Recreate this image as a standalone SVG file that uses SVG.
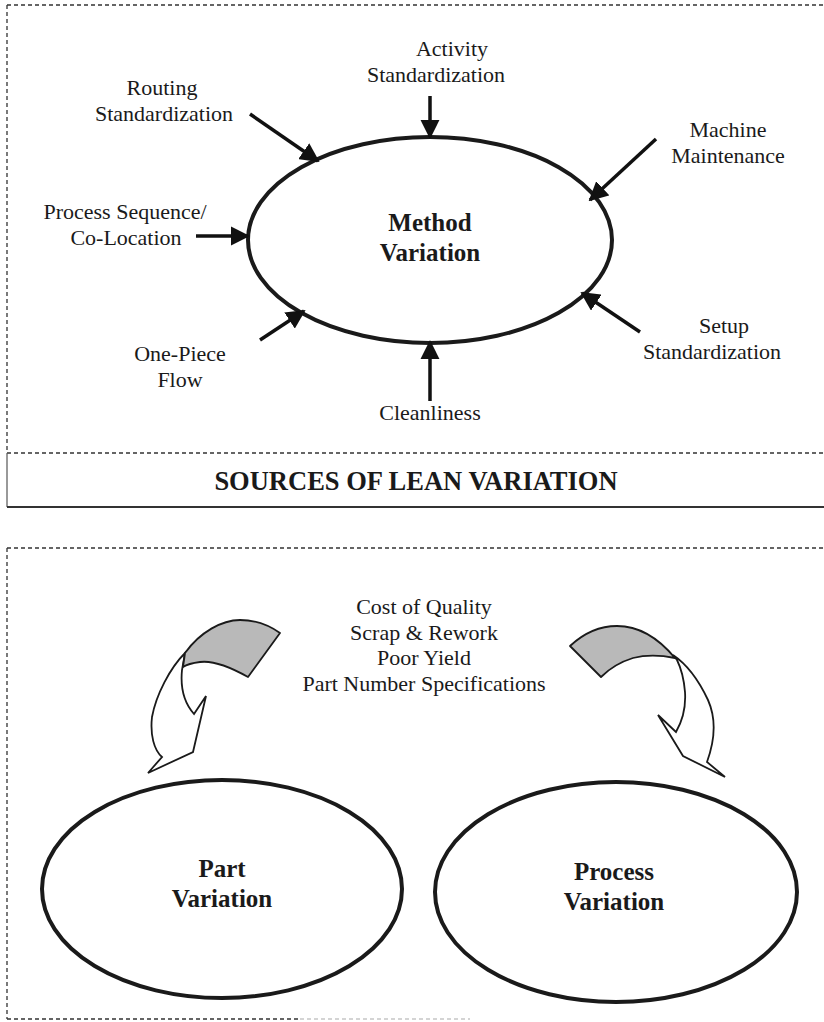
<svg xmlns="http://www.w3.org/2000/svg" width="824" height="1022" viewBox="0 0 824 1022">
<defs>
<marker id="ah" viewBox="0 0 10 10" refX="9" refY="5" markerWidth="5.5" markerHeight="5.5" orient="auto" markerUnits="strokeWidth">
<path d="M0,0 L10,5 L0,10 Z" fill="#111"/>
</marker>
<style>
.t{font-family:"Liberation Serif","Times New Roman","DejaVu Serif",serif;font-size:22px;fill:#1a1a1a;text-anchor:middle}
.b{font-family:"Liberation Serif","Times New Roman","DejaVu Serif",serif;font-size:25px;font-weight:bold;fill:#1a1a1a;text-anchor:middle}
.h{font-family:"Liberation Serif","Times New Roman","DejaVu Serif",serif;font-size:26.5px;font-weight:bold;fill:#1a1a1a;text-anchor:middle}
.d{stroke:#333;stroke-width:1.3;stroke-dasharray:4 3;fill:none}
.e{fill:#fff;stroke:#1a1a1a;stroke-width:4}
.a{stroke:#111;stroke-width:3.5;fill:none;marker-end:url(#ah)}
.g{fill:#b9b9b9;stroke:#1a1a1a;stroke-width:1.8;stroke-linejoin:round}
.w{fill:#fff;stroke:#1a1a1a;stroke-width:1.8;stroke-linejoin:miter}
</style>
</defs>
<g id="frames">
<line class="d" x1="7" y1="5" x2="824" y2="5"/>
<line class="d" x1="7" y1="5" x2="7" y2="453"/>
<line class="d" x1="7" y1="453" x2="824" y2="453"/>
<line x1="7" y1="453" x2="7" y2="507" stroke="#555" stroke-width="1.2"/>
<line x1="7" y1="507" x2="824" y2="507" stroke="#333" stroke-width="2"/>
<line class="d" x1="7" y1="548" x2="824" y2="548"/>
<line class="d" x1="7" y1="548" x2="7" y2="1019"/>
<line class="d" x1="7" y1="1019" x2="300" y2="1019"/>
<line x1="300" y1="1019" x2="470" y2="1019" stroke="#aaa" stroke-width="1.2" stroke-dasharray="4 3"/>
</g>
<g id="method">
<ellipse class="e" cx="430" cy="240" rx="182" ry="103"/>
<text class="b" x="430" y="231">Method</text>
<text class="b" x="430" y="261">Variation</text>
</g>
<g id="activity"><text class="t" x="452" y="56">Activity</text><text class="t" x="436" y="82">Standardization</text></g>
<g id="routing"><text class="t" x="162" y="95">Routing</text><text class="t" x="164" y="121">Standardization</text></g>
<g id="machine"><text class="t" x="728" y="137">Machine</text><text class="t" x="728" y="163">Maintenance</text></g>
<g id="sequence"><text class="t" x="125" y="219">Process Sequence/</text><text class="t" x="126" y="245">Co-Location</text></g>
<g id="onepiece"><text class="t" x="180" y="361">One-Piece</text><text class="t" x="180" y="387">Flow</text></g>
<g id="cleanliness"><text class="t" x="430" y="420">Cleanliness</text></g>
<g id="setup"><text class="t" x="724" y="333">Setup</text><text class="t" x="712" y="359">Standardization</text></g>
<g id="title"><text class="h" x="416" y="490">SOURCES OF LEAN VARIATION</text></g>
<g id="connectors">
<line class="a" x1="430" y1="96" x2="430" y2="137"/>
<line class="a" x1="250" y1="114" x2="318" y2="161"/>
<line class="a" x1="656" y1="139" x2="590" y2="200"/>
<line class="a" x1="196" y1="236" x2="248" y2="236"/>
<line class="a" x1="260" y1="340" x2="304" y2="311"/>
<line class="a" x1="430" y1="401" x2="430" y2="342"/>
<line class="a" x1="640" y1="332" x2="582" y2="293"/>
</g>
<g id="costs">
<text class="t" x="424" y="614">Cost of Quality</text>
<text class="t" x="424" y="640">Scrap &amp; Rework</text>
<text class="t" x="424" y="665">Poor Yield</text>
<text class="t" x="424" y="691">Part Number Specifications</text>
</g>
<g id="left-arrow">
<path class="w" d="M185,653 C170,668 156,695 152,717 C150,735 154,750 162,757 L148,773 L193,752 L206,696 L194,714 C186,705 180,690 182,670 Z"/>
<path class="g" d="M185,653 C200,632 222,620 240,620 C255,620 270,626 280,633 L248,677 C232,668 215,660 200,662 C192,663 186,665 183,667 Z"/>
</g>
<g id="right-arrow">
<path class="w" d="M673,655 C688,665 700,683 708,700 C716,718 715,740 707,762 L725,777 L683,756 L658,715 L676,732 C683,720 686,707 685,692 C684,680 681,668 677,660 Z"/>
<path class="g" d="M570,646 C585,632 600,626 617,626 C640,626 660,640 675,658 C660,655 645,655 633,658 C620,662 610,668 601,677 Z"/>
</g>
<g id="part">
<ellipse class="e" cx="222" cy="889" rx="180" ry="109"/>
<text class="b" x="222" y="877">Part</text>
<text class="b" x="222" y="907">Variation</text>
</g>
<g id="process">
<ellipse class="e" cx="616" cy="892" rx="181" ry="110"/>
<text class="b" x="614" y="880">Process</text>
<text class="b" x="614" y="910">Variation</text>
</g>
</svg>
